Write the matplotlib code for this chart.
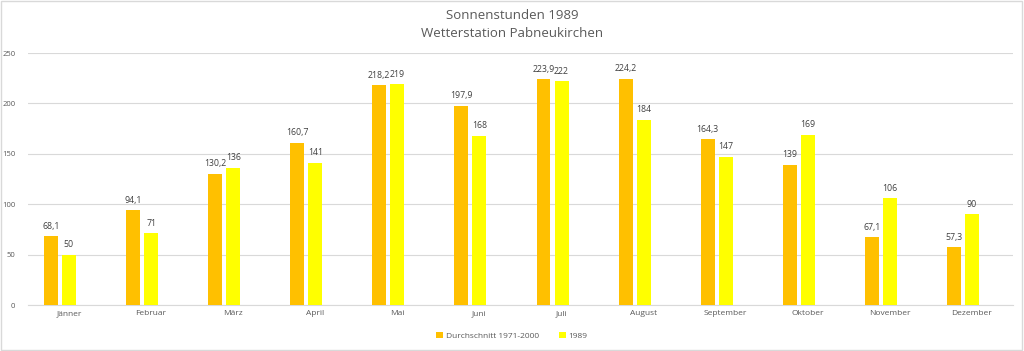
import numpy as np
import matplotlib.pyplot as plt
from matplotlib.patches import Rectangle

monate = ['Jänner', 'Februar', 'März', 'April', 'Mai', 'Juni', 'Juli',
          'August', 'September', 'Oktober', 'November', 'Dezember']
durchschnitt = [68.1, 94.1, 130.2, 160.7, 218.2, 197.9, 223.9, 224.2, 164.3, 139, 67.1, 57.3]
jahr_1989 = [50, 71, 136, 141, 219, 168, 222, 184, 147, 169, 106, 90]

farbe_schnitt = '#FFC000'
farbe_1989 = '#FFFF00'
text_grau = '#595959'

plt.rcParams['font.family'] = ['Open Sans', 'DejaVu Sans']

fig = plt.figure(figsize=(10.24, 3.51), dpi=100)
ax = fig.add_axes([0.0273, 0.131, 0.962, 0.718])

x = np.arange(len(monate))
breite = 0.17
b1 = ax.bar(x - 0.22, durchschnitt, breite, color=farbe_schnitt, label='Durchschnitt 1971-2000', zorder=3)
b2 = ax.bar(x, jahr_1989, breite, color=farbe_1989, label='1989', zorder=3)

def fmt(v):
    return (f'{v:g}').replace('.', ',')

for bars, werte in ((b1, durchschnitt), (b2, jahr_1989)):
    for b, v in zip(bars, werte):
        ax.annotate(fmt(v), (b.get_x() + b.get_width() / 2, v), xytext=(0, 4),
                    textcoords='offset points', ha='center', va='bottom',
                    fontsize=6.3, color='#404040')

ax.set_xlim(-0.5, len(monate) - 0.5)
ax.set_ylim(0, 250)
ax.set_yticks(range(0, 251, 50))
ax.set_xticks(x)
ax.set_xticklabels(monate)
ax.tick_params(length=0, labelsize=6, colors=text_grau)
ax.tick_params(axis='y', pad=9, labelsize=5.5)
ax.grid(axis='y', color='#D9D9D9', linewidth=0.8, zorder=0)
for s in ['top', 'right', 'left']:
    ax.spines[s].set_visible(False)
ax.spines['bottom'].set_color('#D9D9D9')

fig.text(0.5, 0.955, 'Sonnenstunden 1989', ha='center', va='center', fontsize=9.5, color=text_grau)
fig.text(0.5, 0.905, 'Wetterstation Pabneukirchen', ha='center', va='center', fontsize=9.5, color=text_grau)

fig.legend(loc='center', bbox_to_anchor=(0.5, 0.043), ncol=2, frameon=False,
           fontsize=6, handlelength=0.8, handleheight=0.8, columnspacing=2.5,
           handletextpad=0.3, labelcolor=text_grau)

fig.patches.append(Rectangle((0.001, 0.002), 0.997, 0.995, transform=fig.transFigure,
                             fill=False, edgecolor='#D9D9D9', linewidth=1))

fig.savefig('out.png', dpi=100)
